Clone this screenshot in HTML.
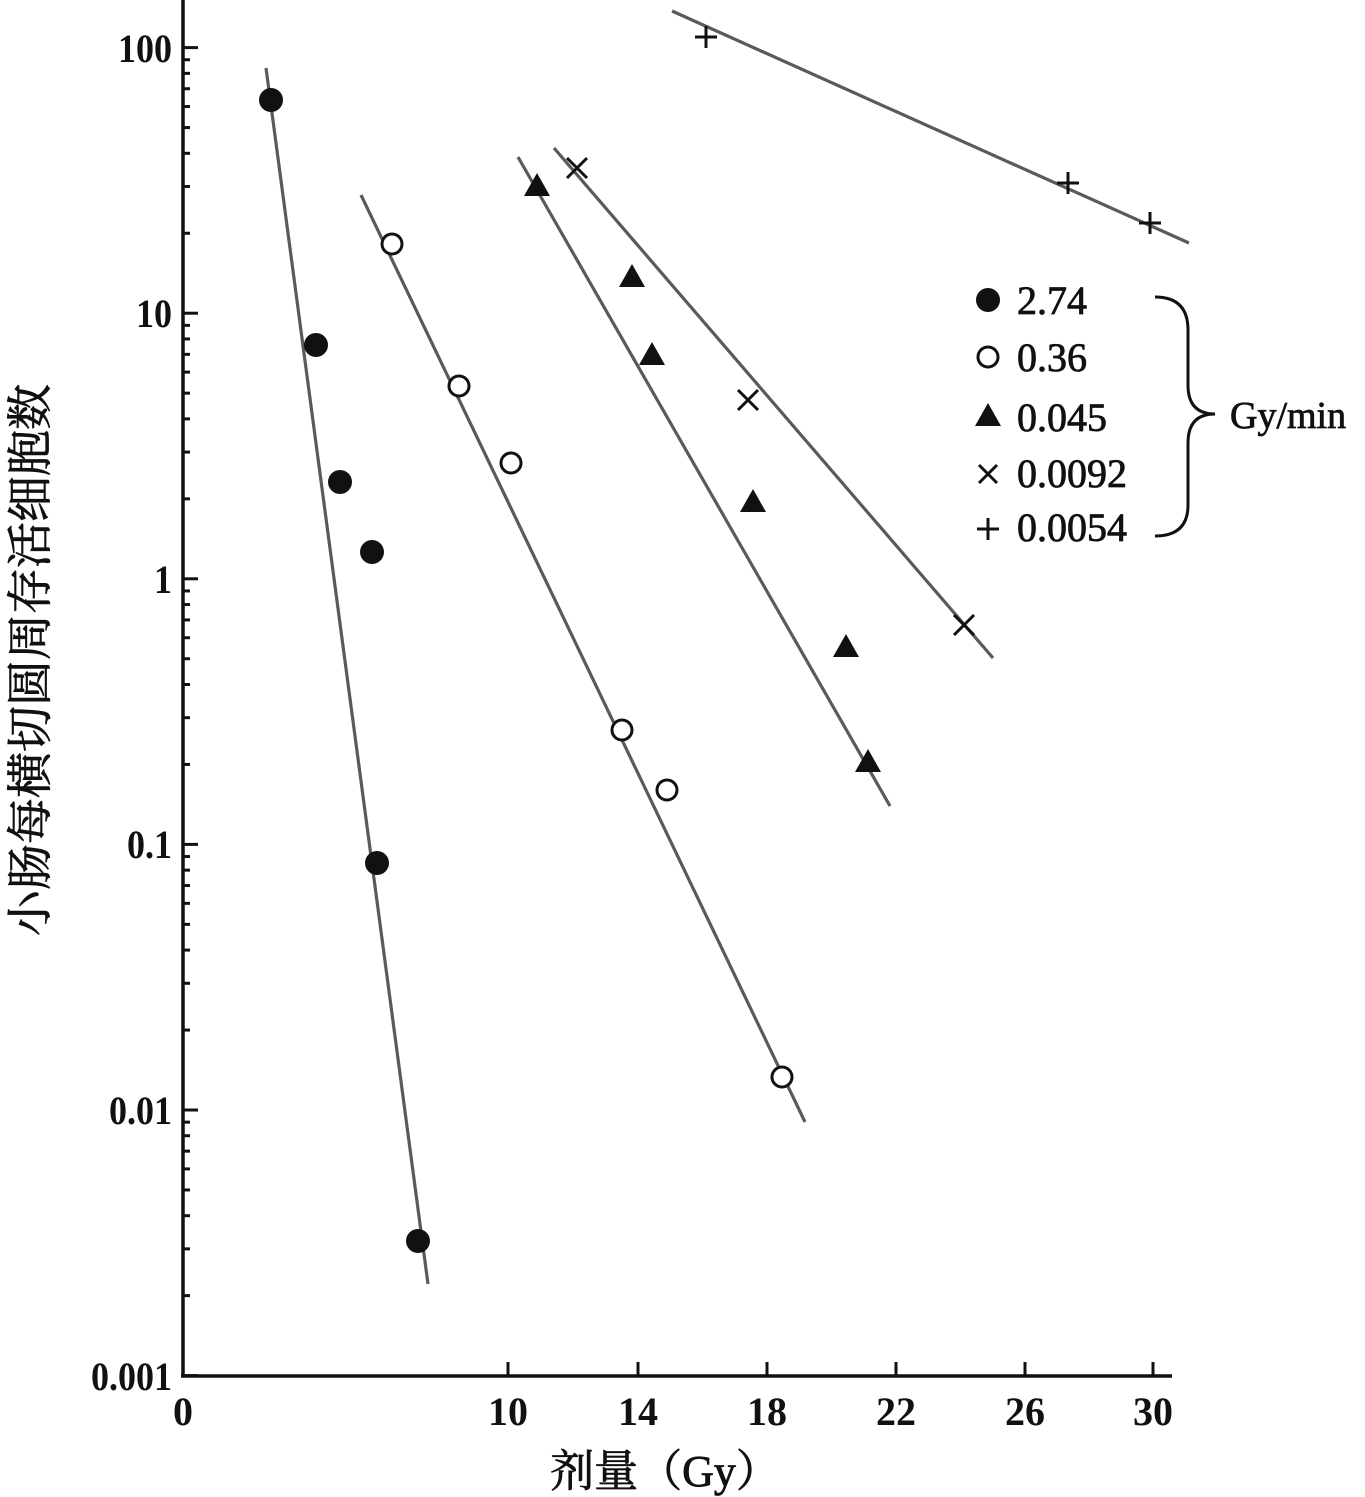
<!DOCTYPE html>
<html><head><meta charset="utf-8"><style>
html,body{margin:0;padding:0;background:#fff;}
svg{display:block;}
.t{font-family:"Liberation Serif","Noto Serif CJK SC",serif;fill:#111;}
.b{stroke:#111;stroke-width:0.8;}
</style></head><body>
<svg width="1365" height="1497" viewBox="0 0 1365 1497" xmlns="http://www.w3.org/2000/svg">
<g stroke="#111" stroke-width="3.5" fill="none">
<line x1="183" y1="0" x2="183" y2="1377"/>
<line x1="181" y1="1376" x2="1172" y2="1376"/>
</g>
<g stroke="#111" stroke-width="3" id="ticks"></g>
<g class="t" font-size="40" font-weight="bold" text-anchor="end">
<text x="172" y="62" transform="translate(172,0) scale(0.9,1) translate(-172,0)">100</text>
<text x="172" y="327" transform="translate(172,0) scale(0.9,1) translate(-172,0)">10</text>
<text x="172" y="593" transform="translate(172,0) scale(0.9,1) translate(-172,0)">1</text>
<text x="172" y="858" transform="translate(172,0) scale(0.9,1) translate(-172,0)">0.1</text>
<text x="172" y="1124" transform="translate(172,0) scale(0.9,1) translate(-172,0)">0.01</text>
<text x="172" y="1390" transform="translate(172,0) scale(0.9,1) translate(-172,0)">0.001</text>
</g>
<g class="t" font-size="40" font-weight="bold" text-anchor="middle">
<text x="183" y="1425">0</text>
<text x="508" y="1425">10</text>
<text x="638" y="1425">14</text>
<text x="767" y="1425">18</text>
<text x="896" y="1425">22</text>
<text x="1025" y="1425">26</text>
<text x="1153" y="1425">30</text>
</g>
<text class="t b" font-size="44" x="665" y="1486" text-anchor="middle">剂量（Gy）</text>
<text class="t b" font-size="46" transform="translate(46,660) rotate(-90)" text-anchor="middle">小肠每横切圆周存活细胞数</text>
<g stroke="#5a5a5a" stroke-width="3.2">
<line x1="266" y1="68" x2="428" y2="1284"/>
<line x1="361" y1="195" x2="805" y2="1122"/>
<line x1="518" y1="157" x2="890" y2="806"/>
<line x1="554" y1="148" x2="993" y2="658"/>
<line x1="672" y1="11" x2="1189" y2="243"/>
</g>
<g fill="#111">
<circle cx="271" cy="100" r="12"/><circle cx="316" cy="345" r="12"/><circle cx="340" cy="482" r="12"/>
<circle cx="372" cy="552" r="12"/><circle cx="377" cy="863" r="12"/><circle cx="418" cy="1241" r="12"/>
</g>
<g fill="#fff" stroke="#111" stroke-width="3">
<circle cx="392" cy="244" r="10"/><circle cx="459" cy="386" r="10"/><circle cx="511" cy="463" r="10"/>
<circle cx="622" cy="730" r="10"/><circle cx="667" cy="790" r="10"/><circle cx="782" cy="1077" r="10"/>
</g>
<g fill="#111" id="tri"></g>
<g stroke="#111" stroke-width="3" id="xs"></g>
<g stroke="#111" stroke-width="3" id="ps"></g>
<circle cx="988" cy="300" r="12" fill="#111"/>
<circle cx="988" cy="357" r="10" fill="#fff" stroke="#111" stroke-width="3"/>
<polygon points="988,403 1001,426 975,426" fill="#111"/>
<g stroke="#111" stroke-width="3">
<line x1="979" y1="465" x2="997" y2="483"/><line x1="997" y1="465" x2="979" y2="483"/>
<line x1="988" y1="518" x2="988" y2="540"/><line x1="977" y1="529" x2="999" y2="529"/>
</g>
<g class="t b" font-size="40">
<text x="1017" y="314">2.74</text>
<text x="1017" y="371">0.36</text>
<text x="1017" y="431">0.045</text>
<text x="1017" y="487">0.0092</text>
<text x="1017" y="541">0.0054</text>
<text x="1230" y="428" font-size="38">Gy/min</text>
</g>
<path d="M1155,297 Q1188,297 1188,330 L1188,385 Q1188,414 1215,414 Q1188,414 1188,443 L1188,505 Q1188,536 1155,536" fill="none" stroke="#111" stroke-width="3"/>
<script>
var ns="http://www.w3.org/2000/svg";
function el(p,n,a){var e=document.createElementNS(ns,n);for(var k in a)e.setAttribute(k,a[k]);document.getElementById(p).appendChild(e);}
function y(v){return 47.6+(2-Math.log10(v))*265.6;}
for(var d=-3;d<=2;d++){for(var m=1;m<10;m++){if(d==2&&m>1)break;var v=m*Math.pow(10,d);var yy=y(v);el('ticks','line',{x1:183,x2:m==1?198:190,y1:yy,y2:yy});}}
[508,638,767,896,1025,1153].forEach(function(x){el('ticks','line',{x1:x,x2:x,y1:1376,y2:1362});});
[[537,186],[632,277],[652,355],[753,502],[846,647],[868,762]].forEach(function(p){el('tri','polygon',{points:(p[0])+','+(p[1]-13)+' '+(p[0]+13)+','+(p[1]+10)+' '+(p[0]-13)+','+(p[1]+10)});});
[[577,168],[748,400],[964,625]].forEach(function(p){el('xs','line',{x1:p[0]-10,y1:p[1]-10,x2:p[0]+10,y2:p[1]+10});el('xs','line',{x1:p[0]+10,y1:p[1]-10,x2:p[0]-10,y2:p[1]+10});});
[[706,37],[1068,183],[1150,223]].forEach(function(p){el('ps','line',{x1:p[0]-11,y1:p[1],x2:p[0]+11,y2:p[1]});el('ps','line',{x1:p[0],y1:p[1]-11,x2:p[0],y2:p[1]+11});});
</script>
</svg>
</body></html>
